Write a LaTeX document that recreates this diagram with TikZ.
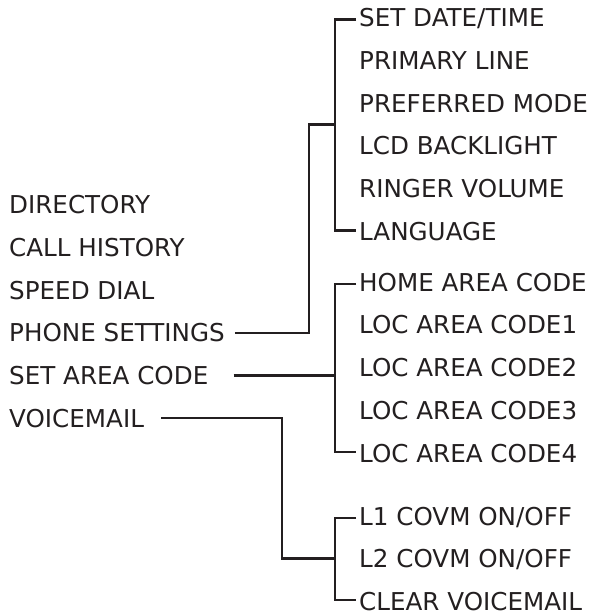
\documentclass[tikz,border=0pt]{standalone}
\usepackage{fontspec}
\setmainfont{DejaVu Sans}
\usetikzlibrary{calc}
\definecolor{ink}{HTML}{231F20}

\begin{document}
\begin{tikzpicture}[x=1pt,y=-1pt,
	item/.style={anchor=west,inner xsep=3pt,inner ysep=0pt,text height=18pt,text depth=0pt,
		text=ink,font=\fontsize{24.6}{30}\selectfont},
	link/.style={draw=ink,line width=2.4pt}]
	\useasboundingbox (0,0) rectangle (592,612);
	% main menu
	\foreach \name/\txt [count=\i from 0] in {dir/DIRECTORY, hist/CALL HISTORY, speed/SPEED DIAL,
		phone/PHONE SETTINGS, area/SET AREA CODE, vm/VOICEMAIL} {
		\node[item] (\name) at (6,205+42.6*\i) {\txt};
	}
	% sub menus
	\foreach \name/\txt [count=\i from 0] in {date/{SET DATE/TIME}, pline/PRIMARY LINE,
		mode/PREFERRED MODE, lcd/LCD BACKLIGHT, ring/RINGER VOLUME, lang/LANGUAGE} {
		\node[item] (\name) at (356,17.5+42.8*\i) {\txt};
	}
	\foreach \name/\txt [count=\i from 0] in {home/HOME AREA CODE, loca/LOC AREA CODE1,
		locb/LOC AREA CODE2, locc/LOC AREA CODE3, locd/LOC AREA CODE4} {
		\node[item] (\name) at (356,282+42.8*\i) {\txt};
	}
	\foreach \name/\txt [count=\i from 0] in {lone/{L1 COVM ON/OFF}, ltwo/{L2 COVM ON/OFF},
		clear/CLEAR VOICEMAIL} {
		\node[item] (\name) at (356,516+42.6*\i) {\txt};
	}
	% brackets
	\draw[link] ([yshift=-2pt]date.west) -- ++(-21,0) |- ([yshift=1pt]lang.west);
	\draw[link] ([yshift=-2pt]home.west) -- ++(-21,0) |- ([yshift=1pt]locd.west);
	\draw[link] ([yshift=-2pt]lone.west) -- ++(-21,0) |- ([yshift=1pt]clear.west);
	% links
	\coordinate (mid) at ($(date.west)!.5!(lang.west)+(-21,0)$);
	\draw[link] ([xshift=7pt]phone.east) -| ([xshift=-26pt]mid) -- (mid);
	\draw[link] ([xshift=22pt]area.east) -- ([xshift=-21pt]area.east -| home.west);
	\draw[link] ([xshift=14pt]vm.east) -| ([xshift=-74pt]ltwo.west) -- ([xshift=-21pt]ltwo.west);
\end{tikzpicture}
\end{document}
